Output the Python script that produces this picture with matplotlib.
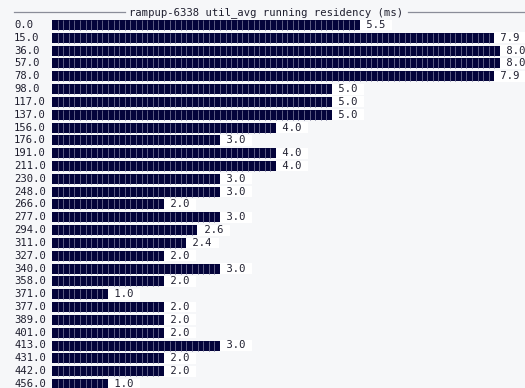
import matplotlib
matplotlib.use("Agg")
import matplotlib.pyplot as plt
import matplotlib.transforms as mtransforms
import numpy as np

# residency buckets (ms) and their util_avg values
buckets = [
    "0.0", "15.0", "36.0", "57.0", "78.0", "98.0", "117.0", "137.0", "156.0",
    "176.0", "191.0", "211.0", "230.0", "248.0", "266.0", "277.0", "294.0",
    "311.0", "327.0", "340.0", "358.0", "371.0", "377.0", "389.0", "401.0",
    "413.0", "431.0", "442.0", "456.0",
]
values = [
    5.5, 7.9, 8.0, 8.0, 7.9, 5.0, 5.0, 5.0, 4.0,
    3.0, 4.0, 4.0, 3.0, 3.0, 2.0, 3.0, 2.6,
    2.4, 2.0, 3.0, 2.0, 1.0, 2.0, 2.0, 2.0,
    3.0, 2.0, 2.0, 1.0,
]
title = "rampup-6338 util_avg running residency (ms)"

W, H = 525, 388
BG = "#f6f7f9"
BAR = "#03033a"
CELL = "#5c5c84"
FONT = "DejaVu Sans Mono"
FS = 7.6

fig = plt.figure(figsize=(W / 100, H / 100), dpi=100, facecolor=BG)

# axes: bar origin at x=52px, 56px per unit; rows 12.82px apart starting at y=25px
x0 = 52
ax = fig.add_axes([x0 / W, 0, (W - x0) / W, 1])
ax.set_facecolor(BG)
ax.set_xlim(0, (W - x0) / 56)
row_h = 12.82
ax.set_ylim((H - 25) / row_h, -25 / row_h)
ax.axis("off")

ys = np.arange(len(values))
bh = 10 / row_h
ax.barh(ys, values, height=bh, color=BAR, linewidth=0)

# character-cell separators inside each bar
for y, v in zip(ys, values):
    xs = np.arange(0.1, v - 1e-6, 0.1)
    ax.vlines(xs, y - bh / 2, y + bh / 2, colors=CELL, linewidth=0.7)
    ax.text(v, y, f" {v:.1f} ", ha="left", va="center", family=FONT,
            fontsize=FS, color="#1e1e2e", clip_on=False,
            bbox=dict(facecolor="white", edgecolor="none", pad=0.3))

# bucket labels, left aligned in the margin
trans = mtransforms.blended_transform_factory(fig.transFigure, ax.transData)
for y, lab in zip(ys, buckets):
    ax.text(14 / W, y, lab, transform=trans, ha="left", va="center",
            family=FONT, fontsize=FS, color="#1e1e2e", clip_on=False)

# title with rule on each side
ty = 1 - 12.5 / H
fig.text(0.5 * (129 + 404) / W, ty, title, ha="center", va="center",
         family=FONT, fontsize=FS, color="#1e1e2e")
fig.add_artist(plt.Line2D([14 / W, 125 / W], [1 - 12 / H] * 2,
                          color="#8a8d99", linewidth=0.9))
fig.add_artist(plt.Line2D([408 / W, 524 / W], [1 - 12 / H] * 2,
                          color="#8a8d99", linewidth=0.9))

fig.savefig("out.png", dpi=100, facecolor=BG)
